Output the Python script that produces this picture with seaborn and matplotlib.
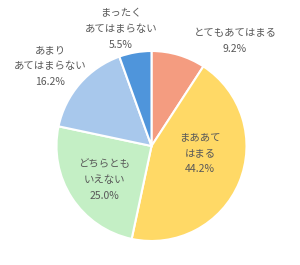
import matplotlib
matplotlib.use("Agg")
import matplotlib.pyplot as plt
import seaborn as sns

sns.set_theme(style="white")
plt.rcParams['font.family'] = ['Noto Sans CJK JP', 'DejaVu Sans']

categories = ["とてもあてはまる", "まああてはまる", "どちらともいえない", "あまりあてはまらない", "まったくあてはまらない"]
label_lines = ["とてもあてはまる", "まああて\nはまる", "どちらとも\nいえない", "あまり\nあてはまらない", "まったく\nあてはまらない"]
values = [9.2, 44.2, 25.0, 16.2, 5.5]
colors = ["#F49C80", "#FFD966", "#C4EFC5", "#A8C8EC", "#4F95DB"]

# label centres in pixel coordinates (x from left, y from top)
label_px = [(235, 41), (200, 153), (104, 180), (50, 66), (121, 29)]

W, H = 300, 265
cx, cy, R = 151.5, 146, 95

fig = plt.figure(figsize=(W / 100, H / 100), dpi=100)
ax = fig.add_axes([0, 0, 1, 1])
ax.pie(values, colors=colors, startangle=90, counterclock=False,
       wedgeprops=dict(edgecolor="white", linewidth=1.5))
ax.set_xlim(-cx / R, (W - cx) / R)
ax.set_ylim(-(H - cy) / R, cy / R)
ax.set_aspect("equal")
ax.axis("off")

for lab, v, (px, py) in zip(label_lines, values, label_px):
    ax.text((px - cx) / R, (cy - py) / R, f"{lab}\n{v:.1f}%", ha="center", va="center",
            fontsize=7.5, color="#595959", linespacing=1.75)

fig.savefig("out.png", dpi=100)
